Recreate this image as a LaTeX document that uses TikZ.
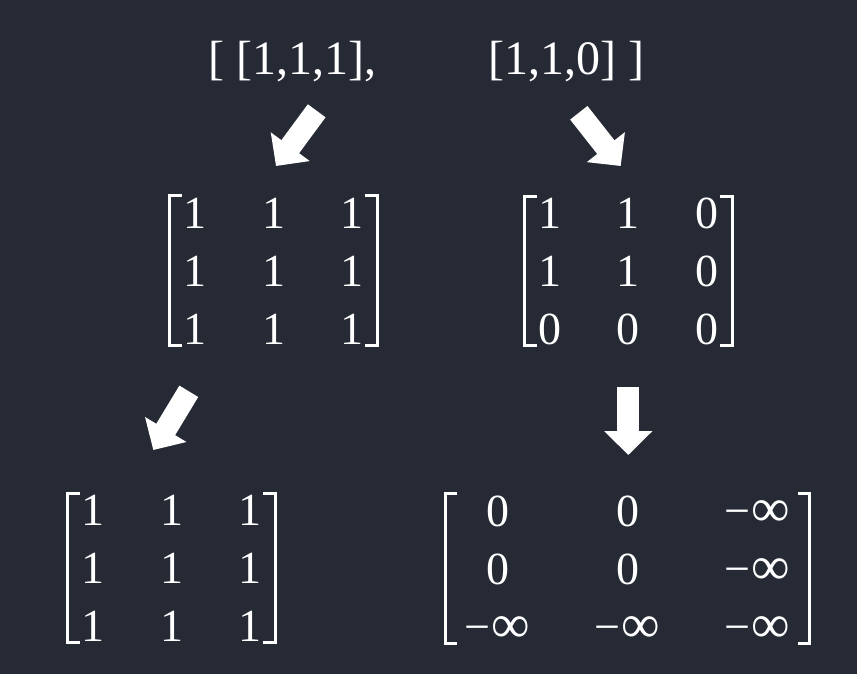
\documentclass[tikz,border=0pt]{standalone}
\usepackage{fontspec}
\setmainfont{Liberation Serif}
\usetikzlibrary{matrix,arrows.meta}
\definecolor{bgdark}{RGB}{38,42,53}
\newcommand{\minf}{−\kern1pt{\fontsize{54}{60}\selectfont ∞}}
\begin{document}
\begin{tikzpicture}[x=1pt,y=-1pt,line join=miter,
    txt/.style={text=white,font=\fontsize{46}{55}\selectfont},
    toptxt/.style={txt,font=\fontsize{48}{55}\selectfont},
    mat/.style={matrix of nodes,inner xsep=10pt,inner ysep=0pt,
      column sep=48.5pt,row sep=25pt,
      nodes={txt,inner sep=0pt,minimum width=30pt,text height=32pt,text depth=1pt}},
    brk/.style={draw=white,line width=3pt},
    bigarrow/.style={draw=white,fill=white,line width=22pt,-{Triangle[width=47pt,length=24pt]}}]
        \useasboundingbox (0,0) rectangle (857,674);
        \fill[bgdark] (0,0) rectangle (857,674);

        % the two masks
        \node[toptxt,anchor=base west] (ltop) at (205,75) {[ [1,1,1],};
        \node[toptxt,anchor=base east] (rtop) at (648,75) {[1,1,0] ]};

        % expanded masks
        \matrix (m1) [mat] at (273.5,270.5) {1 & 1 & 1\\ 1 & 1 & 1\\ 1 & 1 & 1\\};
        \matrix (m2) [mat] at (628.3,271) {1 & 1 & 0\\ 1 & 1 & 0\\ 0 & 0 & 0\\};
        \matrix (m3) [mat] at (171.5,568) {1 & 1 & 1\\ 1 & 1 & 1\\ 1 & 1 & 1\\};
        \matrix (m4) [mat,inner xsep=11pt,column sep=48pt,nodes={minimum width=82pt}] at (627.5,568.5)
          {0 & 0 & \minf\\ 0 & 0 & \minf\\ \minf & \minf & \minf\\};

        \foreach \m in {m1,m2,m3,m4} {
          \draw[brk] ([xshift=12pt]\m.north west) -- (\m.north west) -- (\m.south west) -- ([xshift=12pt]\m.south west);
          \draw[brk] ([xshift=-12pt]\m.north east) -- (\m.north east) -- (\m.south east) -- ([xshift=-12pt]\m.south east);
        }

        % arrows
        \coordinate (a1s) at (316.7,110.8);
        \coordinate (a1e) at (276,166);
        \coordinate (a2s) at (578.8,112.8);
        \coordinate (a2e) at (620.7,166);
        \coordinate (a3s) at (188.8,391.3);
        \coordinate (a3e) at (153.3,450);
        \coordinate (a4s) at (628.3,387);
        \coordinate (a4e) at (628.3,455);
        \draw[bigarrow] (a1s) -- (a1e);
        \draw[bigarrow] (a2s) -- (a2e);
        \draw[bigarrow] (a3s) -- (a3e);
        \draw[bigarrow] (a4s) -- (a4e);
      \end{tikzpicture}
\end{document}
